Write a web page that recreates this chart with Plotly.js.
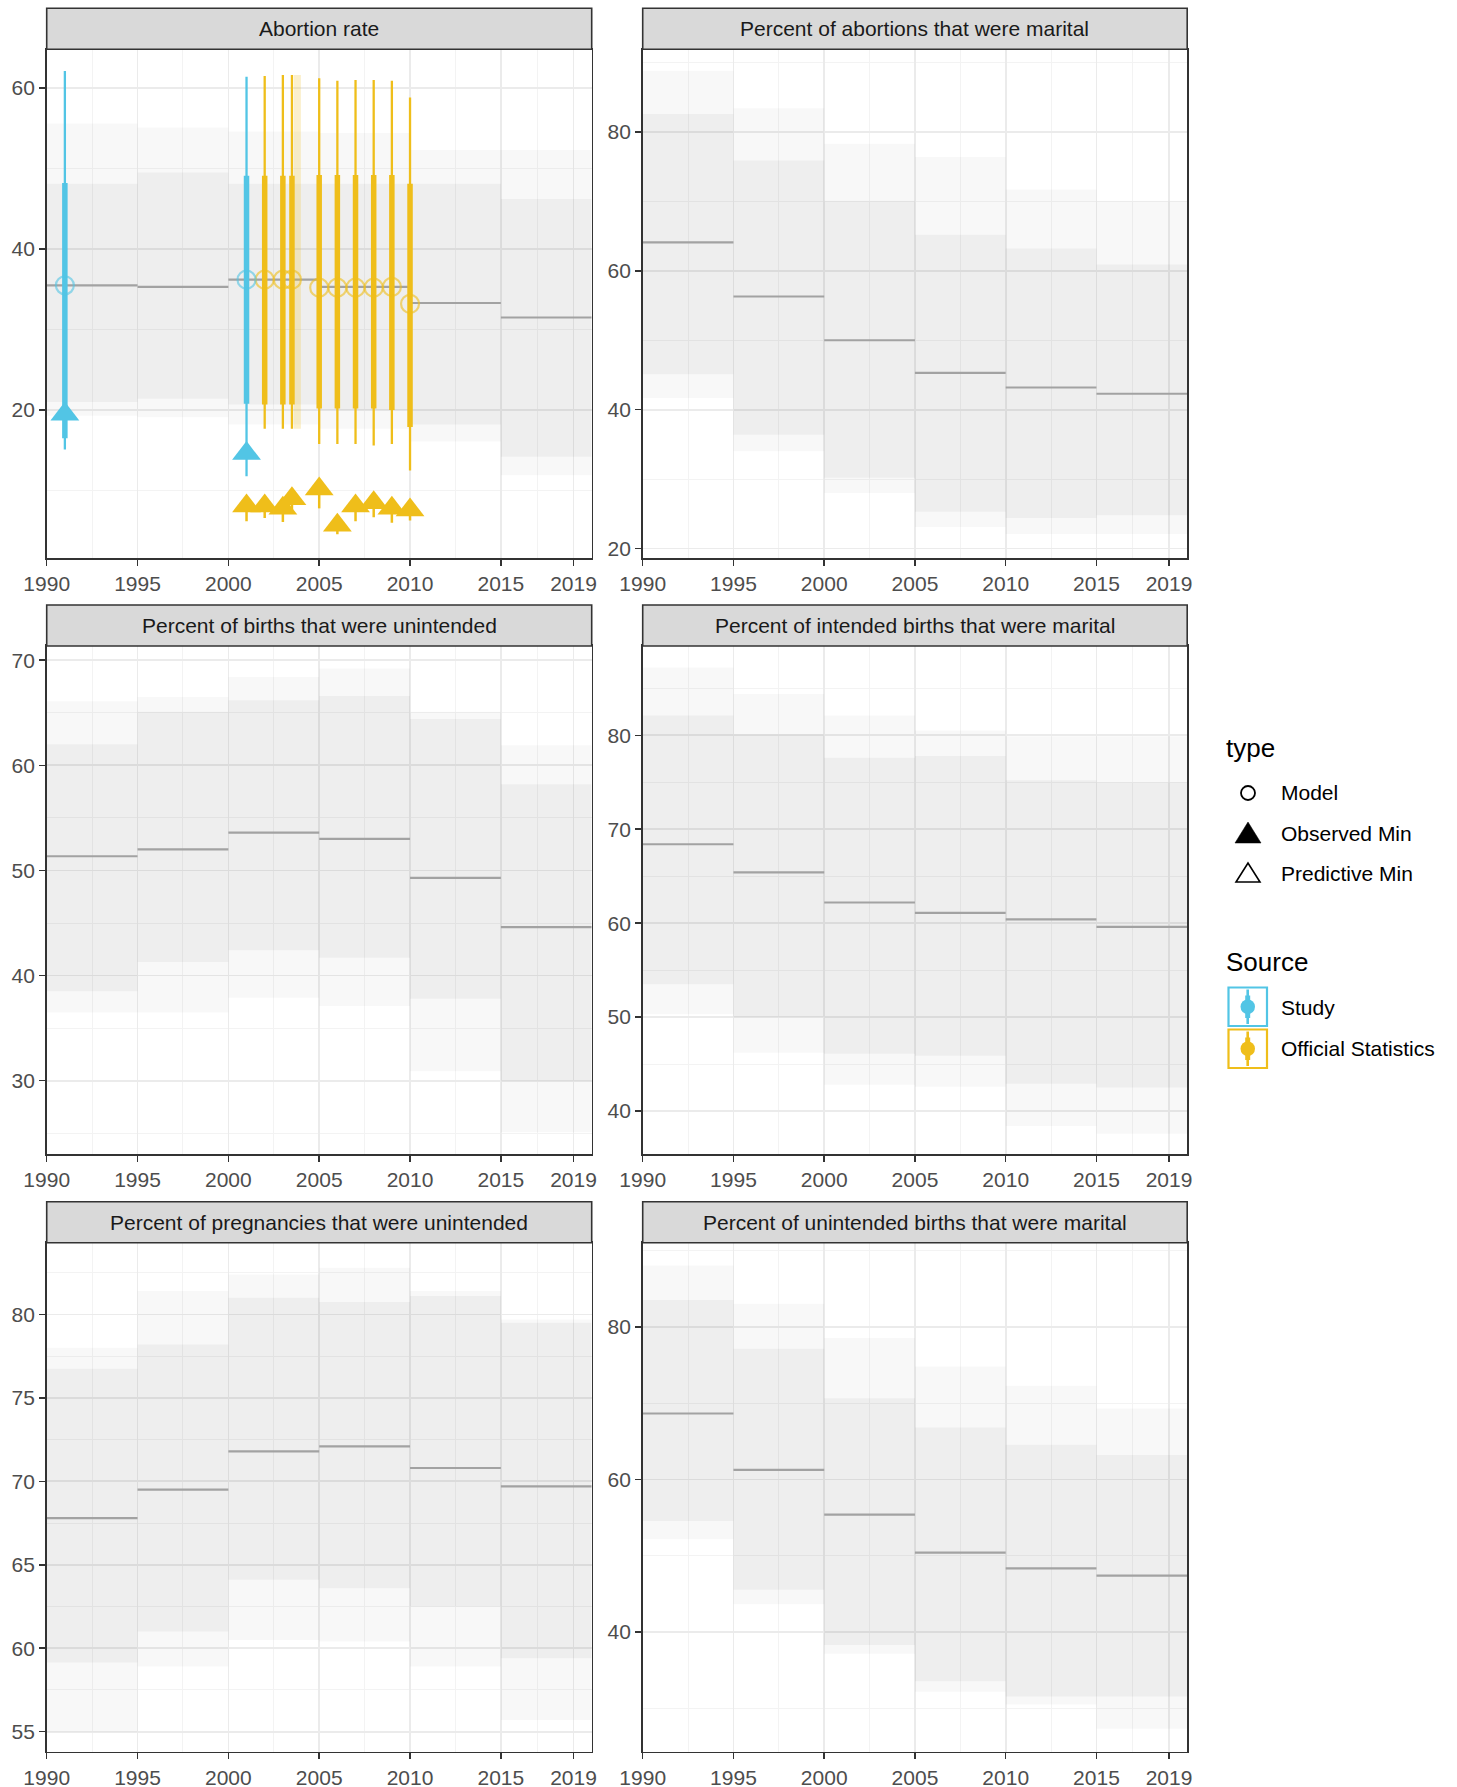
<!DOCTYPE html>
<html><head><meta charset="utf-8">
<script src="https://cdn.plot.ly/plotly-3.0.1.min.js"></script>
<style>html,body{margin:0;padding:0;background:#fff;} #chart{width:1457px;height:1787px;}</style>
</head><body><div id="chart"></div>
<script>
// ---------------- data ----------------
const periodStart = [1990, 1995, 2000, 2005, 2010, 2015];
const periodEnd   = [1995, 2000, 2005, 2010, 2015, 2020];
const xTickVals = [1990, 1995, 2000, 2005, 2010, 2015, 2019];
const xMinorVals = [1992.5, 1997.5, 2002.5, 2007.5, 2012.5, 2017];

const panelTitles = [
  "Abortion rate",
  "Percent of abortions that were marital",
  "Percent of births that were unintended",
  "Percent of intended births that were marital",
  "Percent of pregnancies that were unintended",
  "Percent of unintended births that were marital"
];

// Abortion rate
const abortionMed  = [35.5, 35.3, 36.2, 35.3, 33.3, 31.5];
const abortionLo80 = [21.0, 21.4, 20.7, 20.0, 18.2, 14.2];
const abortionHi80 = [48.1, 49.5, 48.1, 48.1, 48.1, 46.2];
const abortionLo95 = [19.3, 19.1, 18.2, 17.7, 16.1, 11.9];
const abortionHi95 = [55.6, 55.1, 54.6, 54.4, 52.3, 52.3];
// Percent of abortions that were marital
const abMaritalMed  = [64.1, 56.3, 50.0, 45.3, 43.2, 42.3];
const abMaritalLo80 = [45.1, 36.4, 30.2, 25.3, 24.4, 24.8];
const abMaritalHi80 = [82.6, 75.9, 70.1, 65.2, 63.2, 60.9];
const abMaritalLo95 = [41.7, 34.0, 28.0, 23.1, 22.1, 22.1];
const abMaritalHi95 = [88.8, 83.4, 78.3, 76.4, 71.7, 70.1];
// Percent of births that were unintended
const birthUnintMed  = [51.35, 52.0, 53.6, 53.0, 49.3, 44.6];
const birthUnintLo80 = [38.5, 41.3, 42.4, 41.7, 37.8, 30.0];
const birthUnintHi80 = [62.0, 65.1, 66.2, 66.6, 64.4, 58.2];
const birthUnintLo95 = [36.5, 36.5, 37.9, 37.1, 30.9, 25.1];
const birthUnintHi95 = [66.1, 66.5, 68.4, 69.2, 65.1, 61.9];
// Percent of intended births that were marital
const intMaritalMed  = [68.4, 65.4, 62.2, 61.1, 60.4, 59.6];
const intMaritalLo80 = [53.5, 50.0, 46.1, 45.9, 42.9, 42.5];
const intMaritalHi80 = [82.1, 80.1, 77.6, 77.8, 75.2, 75.0];
const intMaritalLo95 = [50.3, 46.2, 42.8, 42.6, 38.4, 37.6];
const intMaritalHi95 = [87.2, 84.4, 82.1, 80.5, 79.9, 79.9];
// Percent of pregnancies that were unintended
const pregUnintMed  = [67.8, 69.5, 71.8, 72.1, 70.8, 69.7];
const pregUnintLo80 = [59.15, 61.0, 64.1, 63.6, 62.5, 59.4];
const pregUnintHi80 = [76.75, 78.2, 81.0, 80.75, 81.1, 79.5];
const pregUnintLo95 = [55.0, 58.9, 60.5, 60.4, 58.9, 55.7];
const pregUnintHi95 = [78.0, 81.4, 82.4, 82.8, 81.4, 79.7];
// Percent of unintended births that were marital
const unintMaritalMed  = [68.65, 61.25, 55.4, 50.4, 48.35, 47.4];
const unintMaritalLo80 = [54.55, 45.55, 38.3, 33.55, 31.55, 31.55];
const unintMaritalHi80 = [83.55, 77.15, 70.65, 66.8, 64.55, 63.2];
const unintMaritalLo95 = [52.15, 43.65, 37.15, 32.15, 30.5, 27.3];
const unintMaritalHi95 = [88.05, 83.05, 78.55, 74.8, 72.3, 69.3];

// y axis ranges and ticks per panel
const yRanges = [[1.6, 64.8], [18.6, 91.9], [23.0, 71.35], [35.4, 89.5], [53.8, 84.3], [24.3, 91.05]];
const yTicks = [[20, 40, 60], [20, 40, 60, 80], [30, 40, 50, 60, 70], [40, 50, 60, 70, 80], [55, 60, 65, 70, 75, 80], [40, 60, 80]];
const yMinor = [[10, 30, 50], [30, 50, 70, 90], [25, 35, 45, 55, 65], [45, 55, 65, 75, 85], [57.5, 62.5, 67.5, 72.5, 77.5, 82.5], [30, 50, 70, 90]];

// Observations in the Abortion rate panel
const studyYear  = [1991, 2001];
const studyModel = [35.5, 36.2];
const studyHi95  = [62.1, 61.4];
const studyHi50  = [48.2, 49.1];
const studyLo50  = [16.5, 20.8];
const studyLo95  = [15.1, 11.8];
const studyMin   = [19.5, 14.6];

const officialYear  = [2002, 2003, 2003.5, 2005, 2006, 2007, 2008, 2009, 2010];
const officialModel = [36.2, 36.2, 36.2, 35.2, 35.2, 35.2, 35.2, 35.3, 33.2];
const officialHi95  = [61.5, 61.6, 61.6, 61.2, 60.9, 61.0, 61.0, 60.9, 58.8];
const officialHi50  = [49.1, 49.1, 49.1, 49.2, 49.2, 49.2, 49.2, 49.2, 48.1];
const officialLo50  = [20.7, 20.7, 20.7, 20.2, 20.2, 20.2, 20.2, 20.0, 17.9];
const officialLo95  = [17.7, 17.7, 17.7, 15.8, 15.8, 15.8, 15.6, 15.8, 12.5];
const officialMinYear = [2001, 2002, 2003, 2003.5, 2005, 2006, 2007, 2008, 2009, 2010];
const officialMin     = [8.1, 8.1, 7.8, 9.0, 10.2, 5.7, 8.1, 8.5, 7.8, 7.6];
const officialMinLo   = [6.2, 6.6, 6.1, 7.6, 7.8, 4.6, 6.2, 6.7, 6.0, 6.3];
const officialFaintYear = [2003.8];
const officialFaintLo = [17.7];
const officialFaintHi = [61.6];

// ---------------- styling / layout ----------------
const FONT = "Liberation Sans, Arial, Helvetica, sans-serif";
const W = 1457, H = 1787;
const CYAN = "#52c5e5", YELLOW = "#efbe1a";
const fx = x => x / W, fy = y => 1 - y / H;

const panelMed  = [abortionMed, abMaritalMed, birthUnintMed, intMaritalMed, pregUnintMed, unintMaritalMed];
const panelLo80 = [abortionLo80, abMaritalLo80, birthUnintLo80, intMaritalLo80, pregUnintLo80, unintMaritalLo80];
const panelHi80 = [abortionHi80, abMaritalHi80, birthUnintHi80, intMaritalHi80, pregUnintHi80, unintMaritalHi80];
const panelLo95 = [abortionLo95, abMaritalLo95, birthUnintLo95, intMaritalLo95, pregUnintLo95, unintMaritalLo95];
const panelHi95 = [abortionHi95, abMaritalHi95, birthUnintHi95, intMaritalHi95, pregUnintHi95, unintMaritalHi95];

const colX = [[46.7, 591.7], [642.7, 1187.2]];
const rowPlot = [[49.3, 558.3], [646, 1154.3], [1242.7, 1751.7]];
const rowStrip = [[8.3, 49.3], [605, 646], [1201.7, 1242.7]];

const sfx = i => (i === 0 ? "" : String(i + 1));

function bandTrace(lo, hi, i, alpha) {
  return {
    type: "bar",
    x: periodStart.map((s, k) => (s + periodEnd[k]) / 2),
    y: hi.map((h, k) => h - lo[k]),
    base: lo,
    width: periodStart.map((s, k) => periodEnd[k] - s),
    marker: { color: "rgba(0,0,0," + alpha + ")", line: { width: 0 } },
    xaxis: "x" + sfx(i), yaxis: "y" + sfx(i),
    hoverinfo: "skip", showlegend: false
  };
}
function stepTrace(med, i) {
  const x = [], y = [];
  med.forEach((m, k) => { x.push(periodStart[k], periodEnd[k], null); y.push(m, m, null); });
  return { type: "scatter", mode: "lines", x, y, line: { color: "#a2a2a2", width: 2.2 },
    xaxis: "x" + sfx(i), yaxis: "y" + sfx(i), hoverinfo: "skip", showlegend: false };
}
function vsegs(xs, lo, hi, color, width, opacity) {
  const x = [], y = [];
  xs.forEach((v, k) => { x.push(v, v, null); y.push(lo[k], hi[k], null); });
  return { type: "scatter", mode: "lines", x, y, line: { color, width }, opacity: opacity || 1,
    xaxis: "x", yaxis: "y", hoverinfo: "skip", showlegend: false };
}
function pts(xs, ys, symbol, color, size, lineColor, lineWidth) {
  return { type: "scatter", mode: "markers", x: xs, y: ys,
    marker: { symbol, size, color, line: { color: lineColor || color, width: lineWidth || 0 } },
    xaxis: "x", yaxis: "y", hoverinfo: "skip", showlegend: false, cliponaxis: false };
}

const traces = [];
for (let i = 0; i < 6; i++) {
  traces.push(bandTrace(panelLo95[i], panelHi95[i], i, 0.026));
  traces.push(bandTrace(panelLo80[i], panelHi80[i], i, 0.04));
  traces.push(stepTrace(panelMed[i], i));
}
// observations (panel 1)
traces.push(vsegs(officialFaintYear, officialFaintLo, officialFaintHi, YELLOW, 7, 0.22));
traces.push(vsegs(officialYear, officialLo95, officialHi95, YELLOW, 2.3));
traces.push(vsegs(officialYear, officialLo50, officialHi50, YELLOW, 5.5));
traces.push(vsegs(officialMinYear, officialMinLo, officialMin, YELLOW, 2.5));
traces.push(vsegs(studyYear, studyLo95, studyHi95, CYAN, 2.3));
traces.push(vsegs(studyYear, studyLo50, studyHi50, CYAN, 5.5));
traces.push(pts(officialYear, officialModel, "circle-open", "rgba(239,190,26,0.6)", 18, "rgba(239,190,26,0.6)", 2.2));
traces.push(pts(studyYear, studyModel, "circle-open", "rgba(82,197,229,0.6)", 18, "rgba(82,197,229,0.6)", 2.2));
traces.push(pts(officialMinYear, officialMin, "triangle-up", YELLOW, 25));
traces.push(pts(studyYear, studyMin, "triangle-up", CYAN, 25));

const layout = {
  width: W, height: H,
  margin: { l: 0, r: 0, t: 0, b: 0 },
  paper_bgcolor: "#ffffff", plot_bgcolor: "#ffffff",
  showlegend: false, barmode: "overlay",
  font: { family: FONT },
  shapes: [], annotations: []
};

for (let i = 0; i < 6; i++) {
  const col = i % 2, row = Math.floor(i / 2);
  const xd = [fx(colX[col][0]), fx(colX[col][1])];
  const yd = [fy(rowPlot[row][1]), fy(rowPlot[row][0])];
  const common = {
    showgrid: true, gridcolor: "#ebebeb", gridwidth: 1.7,
    zeroline: false, showline: true, mirror: true, linecolor: "#333333", linewidth: 1.6,
    ticks: "outside", ticklen: 6, tickwidth: 1.5, tickcolor: "#333333",
    tickfont: { size: 21, color: "#4d4d4d", family: FONT },
    fixedrange: true
  };
  layout["xaxis" + sfx(i)] = Object.assign({}, common, {
    domain: xd, range: [1990, 2020], tickmode: "array", tickvals: xTickVals,
    ticktext: xTickVals.map(String), anchor: "y" + sfx(i),
    minor: { tickmode: "array", tickvals: xMinorVals, showgrid: true, gridcolor: "#f3f3f3", gridwidth: 1 }
  });
  layout["yaxis" + sfx(i)] = Object.assign({}, common, {
    domain: yd, range: yRanges[i], tickmode: "array", tickvals: yTicks[i],
    ticktext: yTicks[i].map(String), anchor: "x" + sfx(i),
    minor: { tickmode: "array", tickvals: yMinor[i], showgrid: true, gridcolor: "#f3f3f3", gridwidth: 1 }
  });
  // strip
  layout.shapes.push({ type: "rect", xref: "paper", yref: "paper",
    x0: xd[0], x1: xd[1], y0: fy(rowStrip[row][1]), y1: fy(rowStrip[row][0]),
    fillcolor: "#d9d9d9", line: { color: "#333333", width: 1.6 }, layer: "above" });
  layout.annotations.push({ xref: "paper", yref: "paper", x: (xd[0] + xd[1]) / 2,
    y: fy((rowStrip[row][0] + rowStrip[row][1]) / 2), xanchor: "center", yanchor: "middle",
    text: panelTitles[i], showarrow: false, font: { size: 21, color: "#1a1a1a", family: FONT } });
}

// ---------------- legend (drawn) ----------------
function ann(text, x, y, size) {
  layout.annotations.push({ xref: "paper", yref: "paper", x: fx(x), y: fy(y), xanchor: "left", yanchor: "middle",
    text, showarrow: false, font: { size, color: "#000000", family: FONT } });
}
ann("type", 1224, 748, 26);
ann("Model", 1279, 793, 21);
ann("Observed Min", 1279, 833, 21);
ann("Predictive Min", 1279, 873, 21);
ann("Source", 1224, 962, 26);
ann("Study", 1279, 1007, 21);
ann("Official Statistics", 1279, 1048, 21);

layout.shapes.push({ type: "circle", xref: "paper", yref: "paper",
  x0: fx(1241), x1: fx(1255), y0: fy(800), y1: fy(786), line: { color: "#000", width: 1.8 }, fillcolor: "rgba(0,0,0,0)" });
layout.shapes.push({ type: "path", xref: "paper", yref: "paper",
  path: `M ${fx(1235)} ${fy(843)} L ${fx(1261)} ${fy(843)} L ${fx(1248)} ${fy(822)} Z`,
  fillcolor: "#000", line: { color: "#000", width: 0.5 } });
layout.shapes.push({ type: "path", xref: "paper", yref: "paper",
  path: `M ${fx(1236)} ${fy(882)} L ${fx(1260)} ${fy(882)} L ${fx(1248)} ${fy(863)} Z`,
  fillcolor: "rgba(0,0,0,0)", line: { color: "#000", width: 1.6 } });

function sourceKey(top, color) {
  layout.shapes.push({ type: "rect", xref: "paper", yref: "paper",
    x0: fx(1228.5), x1: fx(1267), y0: fy(top + 38.5), y1: fy(top), fillcolor: "#ffffff", line: { color, width: 2.2 } });
  layout.shapes.push({ type: "line", xref: "paper", yref: "paper",
    x0: fx(1247.7), x1: fx(1247.7), y0: fy(top + 2), y1: fy(top + 36.5), line: { color, width: 2.6 } });
  layout.shapes.push({ type: "line", xref: "paper", yref: "paper",
    x0: fx(1247.7), x1: fx(1247.7), y0: fy(top + 8), y1: fy(top + 30.5), line: { color, width: 5 } });
  layout.shapes.push({ type: "circle", xref: "paper", yref: "paper",
    x0: fx(1240.5), x1: fx(1255), y0: fy(top + 26.5), y1: fy(top + 12), fillcolor: color, line: { color, width: 0 } });
}
sourceKey(987.5, CYAN);
sourceKey(1029.5, YELLOW);

Plotly.newPlot("chart", traces, layout, { staticPlot: true, displayModeBar: false });
</script>
</body></html>
